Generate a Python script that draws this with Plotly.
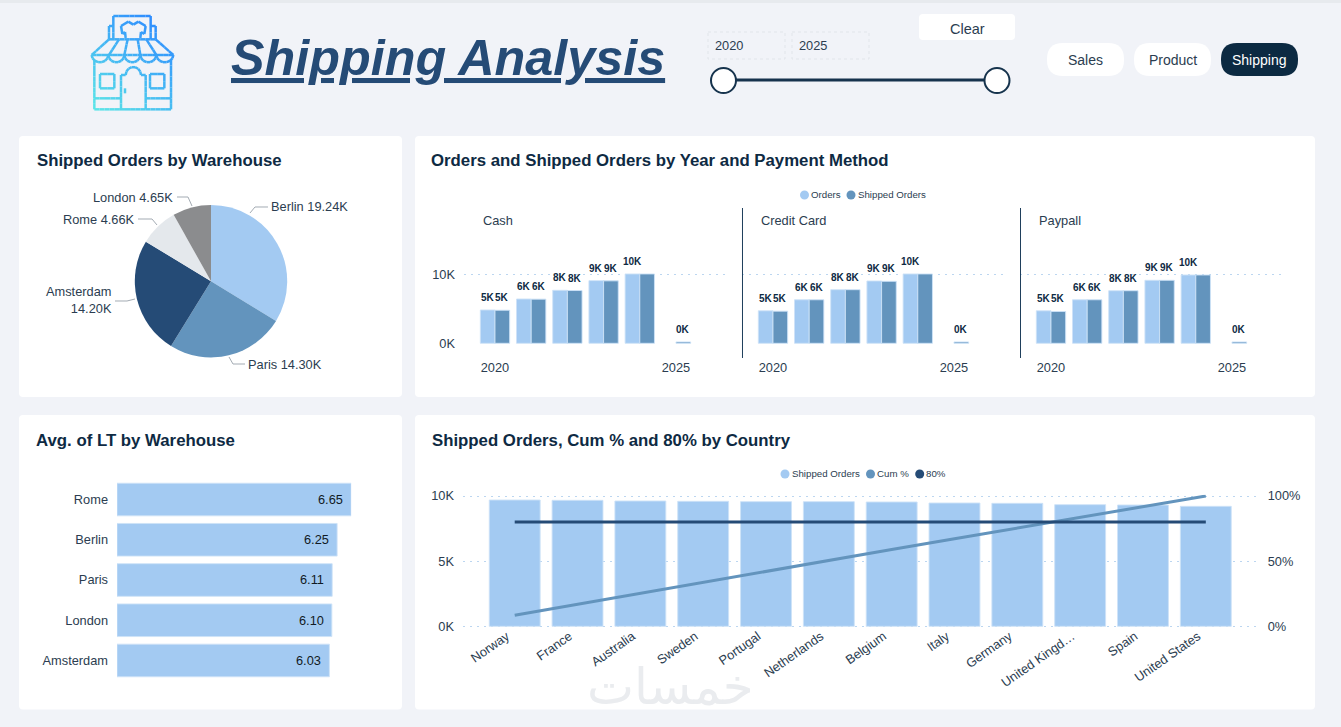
import numpy as np
import plotly.graph_objects as go

W, H = 1341, 727

# pie
wh_names = ['Berlin', 'Paris', 'Amsterdam', 'Rome', 'London']
wh_orders = [19240, 14300, 14200, 4660, 4650]
wh_labels = ['Berlin 19.24K', 'Paris 14.30K', 'Amsterdam<br>14.20K', 'Rome 4.66K', 'London 4.65K']

# small multiples
years = [2020, 2021, 2022, 2023, 2024, 2025]
year_ticks = [2020, 2025]
cash_orders = [4830, 6420, 7680, 9080, 10050, None]
cash_shipped = [4790, 6400, 7650, 9050, 10050, 200]
credit_orders = [4710, 6310, 7770, 9030, 10050, None]
credit_shipped = [4660, 6310, 7770, 8980, 10050, 200]
paypal_orders = [4710, 6310, 7620, 9130, 9900, None]
paypal_shipped = [4610, 6310, 7620, 9130, 9900, 200]
year_labels_orders = ['5K', '6K', '8K', '9K', '10K', '']
year_labels_shipped = ['5K', '6K', '8K', '9K', '', '0K']

# lead time
lt_names = ['Rome', 'Berlin', 'Paris', 'London', 'Amsterdam']
lt_values = [6.65, 6.25, 6.11, 6.10, 6.03]

# pareto
countries = ['Norway', 'France', 'Australia', 'Sweden', 'Portugal', 'Netherlands',
             'Belgium', 'Italy', 'Germany', 'United Kingd…', 'Spain', 'United States']
country_shipped = [9693, 9668, 9616, 9591, 9565, 9565, 9540, 9463, 9437, 9335, 9309, 9207]
cum_pct = [0.085, 0.170, 0.254, 0.338, 0.422, 0.505, 0.589, 0.672, 0.754, 0.836, 0.919, 1.0]
line_80 = [0.8] * 12

LIGHT = '#A3CAF2'
MID = '#6394BD'
NAVY = '#254B76'
DARK = '#0E2A43'
TEXT = '#2B3D50'
GRID = '#BCD6F0'
EDGE = 'rgba(205,226,247,0.9)'
BG = '#F1F3F8'
FONT = 'Liberation Sans'
LABEL = 12.8
DOTS = '2px,5px'
BAR_SHIFT = 0.2025


def px(x):
    return x / W


def py(y):
    return 1 - y / H


def note(x, y, text, size=LABEL, color=TEXT, anchor='left', family=FONT):
    return dict(x=px(x), y=py(y), xref='paper', yref='paper', text=text, showarrow=False,
                xanchor=anchor, yanchor='middle', align=anchor, borderpad=0, borderwidth=0,
                font=dict(family=family, size=size, color=color))


def seg(pts, color='#A3ABB3', width=1):
    path = 'M' + ' L'.join(f'{px(x):.5f},{py(y):.5f}' for x, y in pts)
    return dict(type='path', path=path, xref='paper', yref='paper',
                line=dict(color=color, width=width), layer='above')


def box(x0, y0, x1, y1, r, fill, line=None, dash=None):
    rx, ry = px(r), r / H
    a, b, c, d = px(x0), py(y0), px(x1), py(y1)
    path = (f'M{a + rx},{b} L{c - rx},{b} Q{c},{b} {c},{b - ry} L{c},{d + ry} Q{c},{d} {c - rx},{d} '
            f'L{a + rx},{d} Q{a},{d} {a},{d + ry} L{a},{b - ry} Q{a},{b} {a + rx},{b} Z')
    return dict(type='path', path=path, xref='paper', yref='paper', fillcolor=fill,
                line=dict(color=line or fill, width=1 if line else 0, dash=dash or 'solid'), layer='below')


def circle(cx, cy, r, fill, line=None, width=0):
    return dict(type='circle', xref='paper', yref='paper',
                x0=px(cx - r), x1=px(cx + r), y0=py(cy + r), y1=py(cy - r),
                fillcolor=fill, line=dict(color=line or fill, width=width), layer='above')


# store icon, points are in zoomed pixels of the logo
def icon_color(x, y):
    t = min(max(((x - 85) / 95 * 0.55 + (115 - y) / 105 * 0.75) - 0.1, 0), 1)
    c0, c1 = np.array([0x5D, 0xE6, 0xE8]), np.array([0x2F, 0x8C, 0xFF])
    r, g, b = (c0 + (c1 - c0) * t).astype(int)
    return f'rgb({r},{g},{b})'


def arc(x0, x1, y, depth, n=8):
    t = np.linspace(0, np.pi, n)
    return [((x0 + x1) / 2 - (x1 - x0) / 2 * np.cos(a), y + depth * np.sin(a)) for a in t]


def icon_shapes():
    lines = [
        [(85, 48), (85, 18), (197, 18), (197, 48)],
        [(85, 88), (85, 48), (72, 48), (72, 88)],
        [(197, 88), (197, 48), (212, 48), (212, 88)],
        [(112, 72), (108, 48), (130, 35), (145, 44), (160, 35), (182, 48), (178, 72), (168, 66), (166, 84)],
        [(122, 84), (120, 66), (112, 72)],
        [(72, 88), (212, 88), (265, 135), (20, 135), (72, 88)],
        [(102, 88), (72, 135)], [(128, 88), (118, 135)], [(158, 88), (166, 135)], [(184, 88), (214, 135)],
        arc(20, 70, 135, 22), arc(70, 118, 135, 22), arc(118, 166, 135, 22), arc(166, 214, 135, 22),
        arc(214, 265, 135, 22),
        [(28, 150), (28, 298), (258, 298), (258, 150)],
        [(28, 265), (108, 265)], [(182, 265), (258, 265)],
        [(108, 298), (108, 195), (122, 195)] + arc(122, 168, 195, -24) + [(182, 195), (182, 298)],
        [(45, 192), (88, 192), (88, 235), (45, 235), (45, 192)],
        [(195, 192), (238, 192), (238, 235), (195, 235), (195, 192)],
        [(120, 235), (120, 250)],
    ]
    shapes = []
    for pts in lines:
        pts = [(85 + x / 3, 10 + y / 3) for x, y in pts]
        for (x0, y0), (x1, y1) in zip(pts, pts[1:]):
            n = max(int(np.hypot(x1 - x0, y1 - y0) / 5), 1)
            for i in range(n):
                a = (x0 + (x1 - x0) * i / n, y0 + (y1 - y0) * i / n)
                b = (x0 + (x1 - x0) * (i + 1) / n, y0 + (y1 - y0) * (i + 1) / n)
                shapes.append(seg([a, b], icon_color((a[0] + b[0]) / 2, (a[1] + b[1]) / 2), 2.5))
    return shapes


fig = go.Figure()

fig.add_trace(go.Pie(labels=wh_names, values=wh_orders, sort=False, direction='clockwise', rotation=0,
                     marker=dict(colors=[LIGHT, MID, NAVY, '#E4E8EC', '#8B8C8E'], line=dict(width=0)),
                     textinfo='none', showlegend=False, hoverinfo='label+value',
                     domain=dict(x=[px(134.7), px(287.3)], y=[py(357.4), py(205)])))

bar_notes = []
panels = [('', cash_orders, cash_shipped, 464), ('2', credit_orders, credit_shipped, 742),
          ('3', paypal_orders, paypal_shipped, 1020)]
for suffix, orders, shipped, left in panels:
    for vals, color, labels, side in [(orders, LIGHT, year_labels_orders, -1),
                                      (shipped, MID, year_labels_shipped, 1)]:
        fig.add_trace(go.Bar(x=years, y=vals, xaxis='x' + suffix, yaxis='y' + suffix,
                             marker=dict(color=color, line=dict(width=1, color=EDGE)),
                             cliponaxis=False, showlegend=False))
        # labels sit higher above the bars than outside text would
        for year, v, label in zip(years, vals, labels):
            if label:
                bar_notes.append(dict(x=year + side * BAR_SHIFT, y=v, xref='x' + suffix, yref='y' + suffix,
                                      text=f'<b>{label}</b>', showarrow=False, yanchor='bottom', yshift=6,
                                      borderpad=0, font=dict(family=FONT, size=10, color=DARK)))
    axis = dict(domain=[px(left), px(left + 261)], range=[2019.144, 2026.354], anchor='y' + suffix,
                tickvals=year_ticks, showgrid=False, zeroline=False, showline=False, ticks='',
                ticklabelstandoff=14, tickfont=dict(family=FONT, size=LABEL, color=TEXT))
    yaxis = dict(domain=[py(344), py(267.4)], range=[-100, 11000], anchor='x' + suffix,
                 tickvals=[0, 10000], ticktext=['0K', '10K'], showticklabels=suffix == '',
                 griddash=DOTS, gridcolor=GRID, gridwidth=1, zeroline=False, showline=False, ticks='',
                 ticklabelstandoff=8, tickfont=dict(family=FONT, size=LABEL, color=TEXT))
    fig.update_layout({'xaxis' + suffix: axis, 'yaxis' + suffix: yaxis})

fig.add_trace(go.Bar(x=lt_values, y=lt_names, orientation='h', xaxis='x4', yaxis='y4',
                     marker=dict(color=LIGHT, line=dict(width=1, color=EDGE)), showlegend=False))
fig.update_layout(
    xaxis4=dict(domain=[px(117), px(351.2)], range=[0, 6.65], anchor='y4', visible=False),
    yaxis4=dict(domain=[py(680.6), py(479.4)], anchor='x4', autorange='reversed', showgrid=False,
                zeroline=False, showline=False, ticks='', ticklabelstandoff=8,
                tickfont=dict(family=FONT, size=LABEL, color=TEXT)),
)

fig.add_trace(go.Bar(x=countries, y=country_shipped, xaxis='x5', yaxis='y5',
                     marker=dict(color=LIGHT, line=dict(width=1, color=EDGE)), showlegend=False))
fig.add_trace(go.Scatter(x=countries, y=cum_pct, xaxis='x5', yaxis='y6', mode='lines', cliponaxis=False,
                         line=dict(color=MID, width=3), showlegend=False))
fig.add_trace(go.Scatter(x=countries, y=line_80, xaxis='x5', yaxis='y6', mode='lines', cliponaxis=False,
                         line=dict(color=NAVY, width=3), showlegend=False))
fig.update_layout(
    xaxis5=dict(domain=[px(463), px(1256.7)], range=[-0.823, 11.81], anchor='y5', showgrid=False,
                zeroline=False, showline=False, ticks='', tickangle=-35, ticklabelstandoff=-2,
                ticklabelshift=-8, tickfont=dict(family=FONT, size=LABEL, color=TEXT)),
    yaxis5=dict(domain=[py(627.6), py(494.7)], range=[-100, 10100], anchor='x5', tickvals=[0, 5000, 10000],
                ticktext=['0K', '5K', '10K'], griddash=DOTS, gridcolor=GRID, zeroline=False, showline=False,
                ticks='', ticklabelstandoff=8, tickfont=dict(family=FONT, size=LABEL, color=TEXT)),
    yaxis6=dict(domain=[py(627.6), py(494.7)], range=[-0.01, 1.01], anchor='x5', overlaying='y5', side='right',
                tickvals=[0, 0.5, 1], ticktext=['0%', '50%', '100%'], showgrid=False, zeroline=False,
                showline=False, ticks='', ticklabelstandoff=10, tickfont=dict(family=FONT, size=LABEL, color=TEXT)),
)

shapes = [
    dict(type='rect', xref='paper', yref='paper', x0=0, x1=1, y0=py(3), y1=1,
         fillcolor='#E7EAEE', line=dict(width=0), layer='below'),
    box(19, 136, 402, 397, 4, 'white'),
    box(415, 136, 1315, 397, 4, 'white'),
    box(19, 415, 402, 709.5, 4, 'white'),
    box(415, 415, 1315, 709.5, 4, 'white'),
    box(708, 32, 785, 59, 0, BG, '#E1E5EA', 'dot'),
    box(792, 32, 869, 59, 0, BG, '#E1E5EA', 'dot'),
    box(919, 14, 1015, 40, 4, 'white'),
    box(1047, 43, 1124, 76, 16, 'white'),
    box(1134, 43, 1211, 76, 16, 'white'),
    box(1221, 43, 1298, 76, 16, '#0C2A42'),
    seg([(723, 80), (997, 80)], '#16334D', 3),
    circle(723.5, 80.5, 12.5, 'white', '#16334D', 2),
    circle(997, 80.5, 12.5, 'white', '#16334D', 2),
    seg([(742.5, 208), (742.5, 358)], '#1F3F5C', 1),
    seg([(1020.5, 208), (1020.5, 358)], '#1F3F5C', 1),
    seg([(250, 213), (255, 207), (268, 207)]),
    seg([(229, 357), (233, 364), (245, 364)]),
    seg([(115, 301), (127, 301), (135, 299)]),
    seg([(138, 219), (152, 219), (157, 225)]),
    seg([(177, 197), (188, 197), (192, 206)]),
    circle(804.5, 195, 4.5, LIGHT),
    circle(851, 195, 4.5, MID),
    circle(785, 474, 4.5, LIGHT),
    circle(870.5, 474, 4.5, MID),
    circle(919.7, 474, 4.5, NAVY),
] + icon_shapes()

annotations = [
    note(231, 58, '<b><i><u>Shipping Analysis</u></i></b>', 50.3, NAVY),
    note(715, 45.5, '2020'), note(799, 45.5, '2025'),
    note(967, 29, 'Clear', 14.5, anchor='center'),
    note(1085, 59.5, 'Sales', 14, anchor='center'),
    note(1172.5, 59.5, 'Product', 14, anchor='center'),
    note(1259.5, 59.5, 'Shipping', 14, 'white', anchor='center'),
    note(37, 161, '<b>Shipped Orders by Warehouse</b>', 16.8, DARK),
    note(431, 161, '<b>Orders and Shipped Orders by Year and Payment Method</b>', 16.8, DARK),
    note(36, 440, '<b>Avg. of LT by Warehouse</b>', 16.8, DARK),
    note(432, 440, '<b>Shipped Orders, Cum % and 80% by Country</b>', 16.8, DARK),
    note(271, 206, wh_labels[0]),
    note(248, 364, wh_labels[1]),
    note(111.5, 300, wh_labels[2], anchor='right'),
    note(135, 219, wh_labels[3], anchor='right'),
    note(173, 197, wh_labels[4], anchor='right'),
    note(811, 194.5, 'Orders', 9.7),
    note(858, 194.5, 'Shipped Orders', 9.7),
    note(792, 473.5, 'Shipped Orders', 9.7),
    note(877, 473.5, 'Cum %', 9.7),
    note(926, 473.5, '80%', 9.7),
    note(483, 220.5, 'Cash'), note(761, 220.5, 'Credit Card'), note(1039, 220.5, 'Paypall'),
    note(670, 687, 'خمسات', 50, '#EAECEF', anchor='center', family='DejaVu Sans'),
] + bar_notes
for name, v in zip(lt_names, lt_values):
    annotations.append(dict(x=v, y=name, xref='x4', yref='y4', text=f'{v:.2f}', showarrow=False,
                            xanchor='right', xshift=-7, borderpad=0,
                            font=dict(family=FONT, size=LABEL, color='#111A24')))

fig.update_layout(
    width=W, height=H, autosize=False, margin=dict(l=0, r=0, t=0, b=0, pad=0, autoexpand=False),
    paper_bgcolor=BG, plot_bgcolor='rgba(0,0,0,0)', barmode='group', bargap=0.19, bargroupgap=0,
    showlegend=False, font=dict(family=FONT, color=TEXT),
    shapes=shapes, annotations=annotations,
)

fig.write_html('out.html', config={'displayModeBar': False},
               post_script="document.body.style.margin='0';document.body.style.overflow='hidden';")
